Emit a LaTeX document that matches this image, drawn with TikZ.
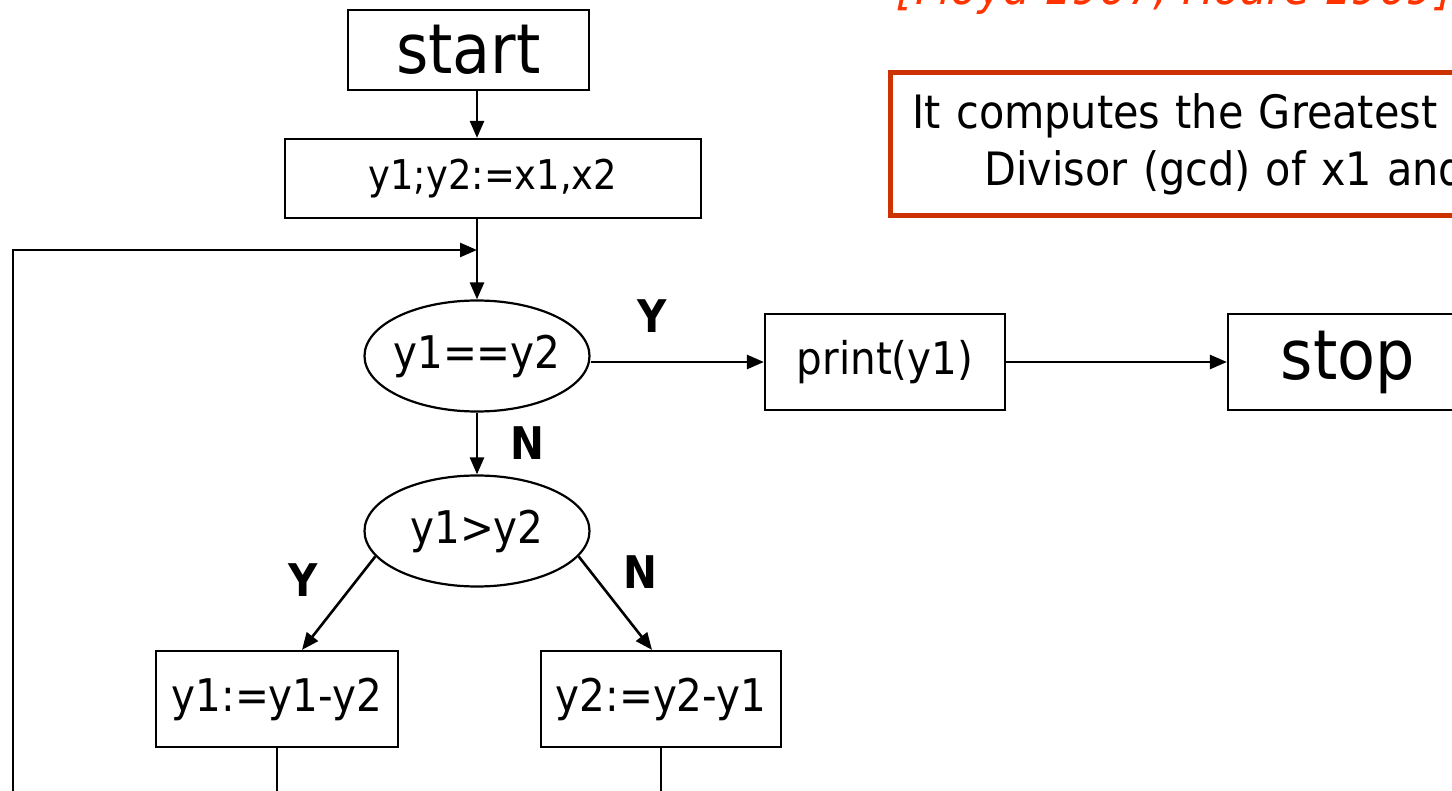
\documentclass[tikz,border=0pt]{standalone}
\usepackage{fontspec}
\setmainfont{DejaVu Sans Condensed}
\newfontfamily\citefont[FakeSlant=0.2]{DejaVu Sans Condensed}
\usetikzlibrary{arrows.meta,shapes.geometric}
\definecolor{gcdred}{HTML}{CC3300}
\definecolor{citeorange}{HTML}{FF3300}
\newcommand{\fsz}[1]{\fontsize{#1}{#1}\selectfont}

\begin{document}
\begin{tikzpicture}[x=1pt,y=-1pt,
  box/.style={draw,line width=2.2pt,rectangle,inner sep=0pt,font=\fsz{45}},
  oval/.style={draw,line width=2.2pt,ellipse,inner ysep=0pt,inner xsep=-6pt,minimum width=225pt,minimum height=111pt,font=\fsz{45}},
  conn/.style={line width=2.6pt},
  arr/.style={conn,-{Triangle[length=17pt,width=14pt]}},
  yn/.style={font=\bfseries\fsz{45}}]
\useasboundingbox (0,0) rectangle (1452,791);
\node[anchor=base west,text=citeorange,font=\citefont\fsz{48},inner sep=0pt] (cite) at (895,5) {[Floyd 1967, Hoare 1969]};
\node[draw=gcdred,line width=5pt,anchor=north west,minimum width=800pt,minimum height=143pt,text width=756pt,inner xsep=22pt,align=left,font=\fontsize{46}{57}\selectfont] (gcd) at (888,70) {It computes the Greatest Common\\\hspace*{72pt}Divisor (gcd) of x1 and x2};
\node[box,minimum width=241pt,minimum height=80pt,font=\fsz{69}] (start) at (468.5,50) {start};
\node[box,minimum width=416pt,minimum height=79pt,font=\fsz{41}] (assign) at (493,178.5) {y1;y2:=x1,x2};
\node[oval] (eq) at (477,356) {y1==y2};
\node[oval] (gt) at (477,531) {y1>y2};
\node[box,minimum width=240pt,minimum height=96pt] (print) at (885,362) {print(y1)};
\node[box,minimum width=240pt,minimum height=96pt,font=\fsz{69}] (stop) at (1348,362) {stop};
\node[box,minimum width=242pt,minimum height=96pt] (sub1) at (277,699) {y1:=y1-y2};
\node[box,minimum width=240pt,minimum height=96pt] (sub2) at (661,699) {y2:=y2-y1};
\node[yn] (yeq) at (652,316) {Y};
\node[yn] (neq) at (527,443) {N};
\node[yn] (ygt) at (303,580) {Y};
\node[yn] (ngt) at (640,572) {N};
\coordinate (loopL) at (13,250);
\coordinate (loopB) at (13,810);
\coordinate (out1) at (277,810);
\coordinate (out2) at (661,810);
\draw[arr] (eq.north |- start.south) -- (eq.north |- assign.north);
\draw[arr] (eq.north |- assign.south) -- (eq.north);
\draw[arr] (loopB) -- (loopL) -- (eq.north |- loopL);
\draw[arr] (eq.east |- print.west) -- (print.west);
\draw[arr] (print.east) -- (stop.west);
\draw[arr] (eq.south) -- (gt.north);
\draw[arr] (gt.194) -- ([xshift=25pt]sub1.north);
\draw[arr] (gt.346) -- ([xshift=-9pt]sub2.north);
\draw[conn] (sub1.south) -- (out1);
\draw[conn] (sub2.south) -- (out2);
\end{tikzpicture}
\end{document}
